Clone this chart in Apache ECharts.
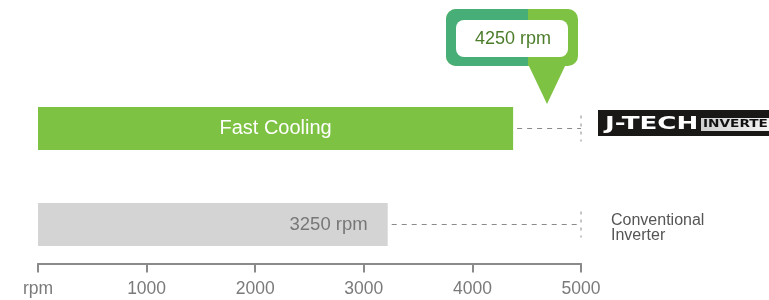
<html>
<head>
    <meta charset="UTF-8">
    <title>J-TECH rpm</title>
    <script src="https://cdn.jsdelivr.net/npm/echarts@6/dist/echarts.min.js"></script>
</head>
<body style="margin:0">
    <div id="container" style="width: 769px;height:300px;"></div>
</body>
<script>
    // data
    var categories = ['J-TECH Inverter', 'Conventional Inverter'];
    var speeds = [4375, 3220];
    var barLabels = ['Fast Cooling', '3250 rpm'];
    var calloutText = '4250 rpm';
    var axisMax = 5000;

    var mycharts = echarts.init(document.getElementById('container'));
    var font = '"Liberation Sans", Arial, sans-serif';
    var logoFont = '"DejaVu Sans", sans-serif';

    var option = {
        animation: false,
        grid: { left: 38, right: 188, top: 80.5, bottom: 27.5 },
        xAxis: {
            type: 'value',
            min: 0,
            max: axisMax,
            interval: 1000,
            offset: -9,
            axisLine: { show: true, lineStyle: { color: '#8a8a8a', width: 2 } },
            axisTick: { show: true, length: 9, lineStyle: { color: '#8a8a8a', width: 2 } },
            splitLine: { show: false },
            axisLabel: {
                color: '#7a7a7a', fontSize: 17.5, fontFamily: font, margin: 17,
                formatter: function (v) { return v === 0 ? 'rpm' : v; }
            }
        },
        yAxis: {
            type: 'category',
            inverse: true,
            data: categories,
            show: false
        },
        series: [{
            type: 'bar',
            barWidth: 43,
            data: [
                { value: speeds[0], itemStyle: { color: '#7dc242' },
                  label: { show: true, position: 'inside', color: '#fff', fontSize: 20, formatter: barLabels[0] } },
                { value: speeds[1], itemStyle: { color: '#d4d4d4' },
                  label: { show: true, position: 'insideRight', distance: 20, color: '#777', fontSize: 18.5, formatter: barLabels[1] } }
            ],
            label: { fontFamily: font }
        }, {
            // dashed connectors from bar end to the 5000 mark
            type: 'custom',
            silent: true,
            data: speeds.map(function (s, i) { return [s, i]; }),
            renderItem: function (params, api) {
                var start = api.coord([api.value(0), api.value(1)]);
                var end = api.coord([axisMax, api.value(1)]);
                return {
                    type: 'group',
                    children: [{
                        type: 'line',
                        shape: { x1: start[0] + 4, y1: start[1], x2: end[0], y2: end[1] },
                        style: { stroke: '#8a8a8a', lineWidth: 1, lineDash: [5, 5] }
                    }, {
                        type: 'line',
                        shape: { x1: end[0], y1: end[1] - 13, x2: end[0], y2: end[1] + 13 },
                        style: { stroke: '#8a8a8a', lineWidth: 1, lineDash: [3, 5] }
                    }]
                };
            }
        }],
        graphic: [
            // speech-bubble callout
            { type: 'rect', shape: { x: 446, y: 9, width: 132, height: 57, r: 10 }, style: { fill: '#7dc242' } },
            { type: 'rect', shape: { x: 446, y: 9, width: 82, height: 57, r: [10, 0, 0, 10] }, style: { fill: '#48ae78' } },
            { type: 'polygon', shape: { points: [[528, 64], [566, 64], [547, 104]] }, style: { fill: '#7dc242' } },
            { type: 'rect', shape: { x: 456, y: 20, width: 112, height: 37, r: 8 }, style: { fill: '#fff' } },
            { type: 'text', x: 513, y: 39, style: { text: calloutText, fill: '#4b7d2b', fontSize: 18, fontFamily: font, align: 'center', verticalAlign: 'middle' } },
            // J-TECH INVERTER badge
            { type: 'rect', shape: { x: 598, y: 110, width: 171, height: 26 }, style: { fill: '#1a1717' } },
            { type: 'text', x: 605, y: 124, scaleX: 1.45, style: { text: 'J-TECH', fill: '#fff', fontSize: 18, fontWeight: 'bold', fontFamily: logoFont, verticalAlign: 'middle' } },
            { type: 'rect', shape: { x: 701, y: 118, width: 68, height: 13 },
              style: { fill: new echarts.graphic.LinearGradient(0, 0, 1, 0, [{ offset: 0, color: '#cfcfcf' }, { offset: 1, color: '#f4f4f4' }]) } },
            { type: 'text', x: 703, y: 124.5, scaleX: 1.3, style: { text: 'INVERTER', fill: '#111', fontSize: 10.5, fontWeight: 'bold', fontFamily: logoFont, verticalAlign: 'middle' } },
            // conventional label
            { type: 'text', x: 611, y: 213, style: { text: 'Conventional\nInverter', fill: '#555', fontSize: 16, lineHeight: 15, fontFamily: font } }
        ]
    };
    mycharts.setOption(option);
</script>
</html>
